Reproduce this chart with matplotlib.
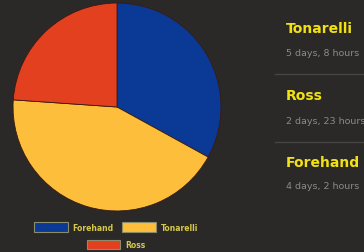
import matplotlib
matplotlib.use("Agg")
import matplotlib.pyplot as plt
from matplotlib.patches import Patch
from matplotlib.lines import Line2D

# Data
names = ["Forehand", "Tonarelli", "Ross"]
hours = [98, 128, 71]          # 4d 2h, 5d 8h, 2d 23h
colors = ["#0a3a96", "#fdbe3c", "#e2401f"]
panel_names = ["Tonarelli", "Ross", "Forehand"]
panel_labels = ["5 days, 8 hours", "2 days, 23 hours", "4 days, 2 hours"]

W, H = 364, 253
bg = "#2b2828"
fig = plt.figure(figsize=(W / 100, H / 100), dpi=100, facecolor=bg)

def fx(px):
    return px / W

def fy(py):
    return 1 - py / H

# Pie
cx, cy, r = 117, 108, 105
ax = fig.add_axes([fx(cx - r), fy(cy + r), 2 * r / W, 2 * r / H])
ax.set_facecolor(bg)
ax.pie(hours, colors=colors, startangle=90, counterclock=False, radius=1,
       wedgeprops=dict(edgecolor="#3a1a10", linewidth=0.6))
ax.set_xlim(-1.01, 1.01)
ax.set_ylim(-1.01, 1.01)
ax.set_aspect("equal")
ax.axis("off")

# Legends
txtcol = "#d6c84a"
fs = 5.5
handles = [Patch(facecolor=c, edgecolor="#8c8c6a", linewidth=0.8) for c in colors]
common = dict(loc="center", frameon=False, handlelength=4.4,
              handleheight=1.6, handletextpad=0.6, borderpad=0,
              prop=dict(family="DejaVu Sans", weight="bold", size=fs))
leg1 = fig.legend(handles[:2], names[:2], ncol=2, bbox_to_anchor=(fx(116), fy(228)),
                  columnspacing=1.2, **common)
leg2 = fig.legend(handles[2:], names[2:], ncol=1, bbox_to_anchor=(fx(116), fy(245.5)),
                  **common)
for leg in (leg1, leg2):
    for t in leg.get_texts():
        t.set_color(txtcol)

# Right panel
title_y = [29, 96, 163]
sub_y = [54, 122, 187]
for n, lab, ty, sy in zip(panel_names, panel_labels, title_y, sub_y):
    fig.text(fx(286), fy(ty), n, color="#f2e214", fontsize=10,
             fontweight="bold", family="DejaVu Sans", va="center", ha="left")
    fig.text(fx(286), fy(sy), lab, color="#8c8a88", fontsize=6.8,
             family="DejaVu Sans", va="center", ha="left")
for ly in [75, 143]:
    fig.add_artist(Line2D([fx(275), fx(364)], [fy(ly), fy(ly)], color="#474343",
                          linewidth=1.0, transform=fig.transFigure))

fig.savefig("out.png", dpi=100, facecolor=bg)
